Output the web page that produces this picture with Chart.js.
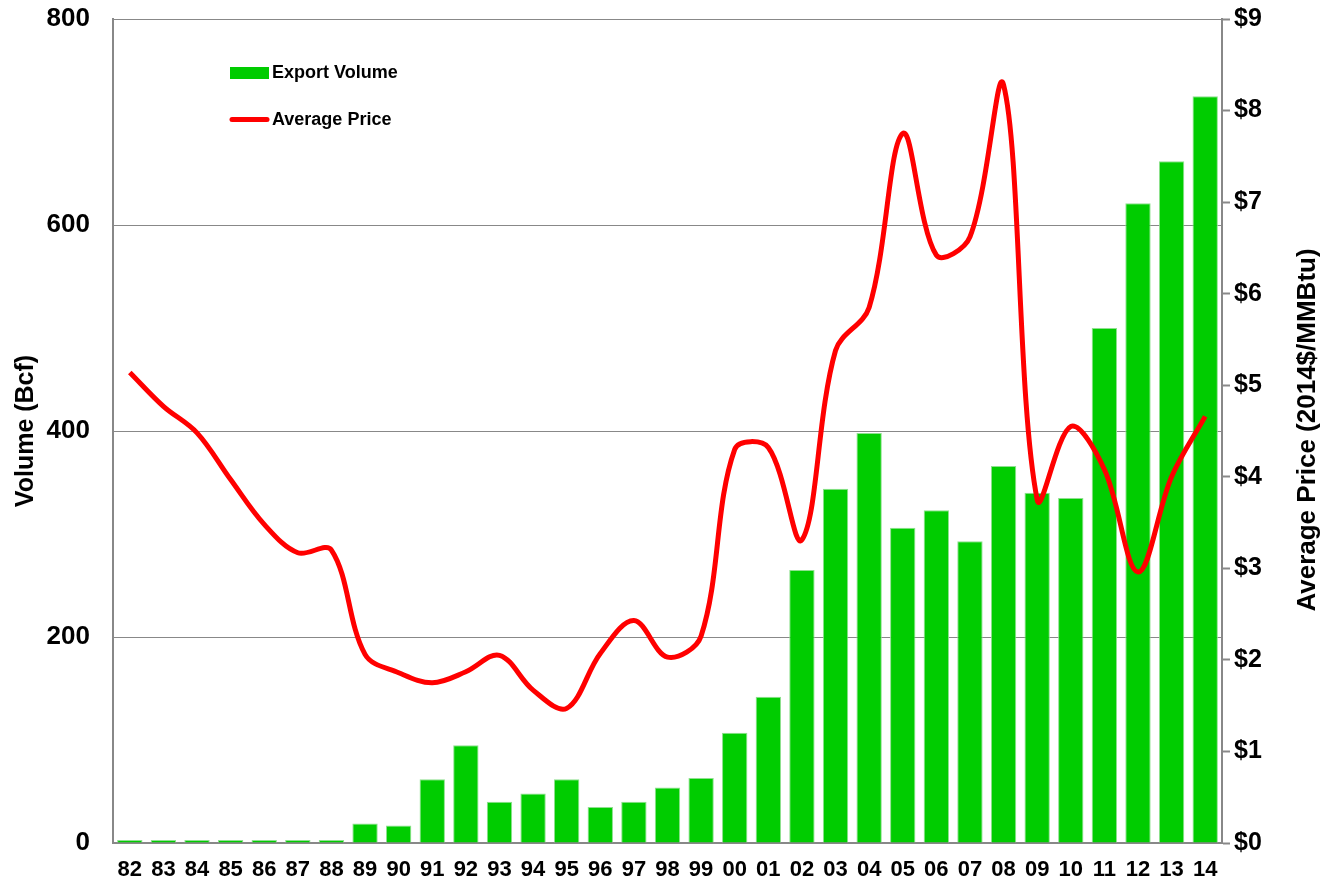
<!DOCTYPE html>
<html>
<head>
<meta charset="utf-8">
<title>Export Volume and Average Price</title>
<script src="https://cdn.jsdelivr.net/npm/chart.js@4/dist/chart.umd.min.js"></script>
<style>
  html, body { margin: 0; padding: 0; background: #fff; }
  #wrap { width: 1322px; height: 882px; }
</style>
</head>
<body>
<div id="wrap"><canvas id="volChart" width="1322" height="882"></canvas></div>
<script>
// Years (two-digit labels), export volume in Bcf, average price in 2014$/MMBtu
const years = ['82','83','84','85','86','87','88','89','90','91','92','93','94','95','96','97','98','99',
  '00','01','02','03','04','05','06','07','08','09','10','11','12','13','14'];
const volume = [3, 3, 3, 3, 3, 3, 3, 19, 17, 62, 95, 40, 48, 62, 35, 40, 54, 63,
  107, 142, 265, 344, 398, 306, 323, 293, 366, 340, 335, 500, 621, 662, 725];
const price = [5.14, 4.77, 4.48, 3.97, 3.48, 3.17, 3.2, 2.06, 1.86, 1.75, 1.87, 2.05, 1.67, 1.47, 2.07, 2.43, 2.03, 2.26,
  4.3, 4.32, 3.31, 5.38, 5.85, 7.75, 6.42, 6.62, 8.28, 3.75, 4.55, 4.08, 2.96, 4.0, 4.66];
const volumeTicks = [0, 200, 400, 600, 800];
const priceTicks = [0, 1, 2, 3, 4, 5, 6, 7, 8, 9];

const FONT = "'Liberation Sans', Arial, sans-serif";
const GREEN = '#00cc00';
const RED = '#ff0000';
const AXIS_GRAY = '#888888';

// legend inside the plot plus the right-hand title (reads bottom to top)
const overlay = {
  id: 'overlay',
  afterDraw(chart) {
    const ctx = chart.ctx;
    const items = chart.data.datasets;
    ctx.save();
    ctx.font = 'bold 18px ' + FONT;
    ctx.fillStyle = '#000';
    ctx.textBaseline = 'middle';
    ctx.textAlign = 'left';
    // bar swatch
    ctx.fillStyle = items[0].backgroundColor;
    ctx.fillRect(230, 67, 39, 12);
    ctx.fillStyle = '#000';
    ctx.fillText(items[0].label, 272, 73);
    // line swatch
    ctx.strokeStyle = items[1].borderColor;
    ctx.lineWidth = 5;
    ctx.lineCap = 'round';
    ctx.beginPath();
    ctx.moveTo(232, 119.5);
    ctx.lineTo(267, 119.5);
    ctx.stroke();
    ctx.fillText(items[1].label, 272, 120);

    ctx.translate(1308, 430);
    ctx.rotate(-Math.PI / 2);
    ctx.textAlign = 'center';
    ctx.font = 'bold 26px ' + FONT;
    ctx.fillText('Average Price (2014$/MMBtu)', 0, 0);
    ctx.restore();
  }
};

new Chart(document.getElementById('volChart'), {
  data: {
    labels: years,
    datasets: [
      {
        type: 'bar',
        label: 'Export Volume',
        data: volume,
        yAxisID: 'y',
        backgroundColor: GREEN,
        borderColor: '#8fe08f',
        borderWidth: 1,
        barPercentage: 0.755,
        categoryPercentage: 1,
        order: 2
      },
      {
        type: 'line',
        label: 'Average Price',
        data: price,
        yAxisID: 'y1',
        borderColor: RED,
        borderWidth: 5,
        pointRadius: 0,
        tension: 0.35,
        fill: false,
        order: 1
      }
    ]
  },
  options: {
    responsive: false,
    animation: false,
    devicePixelRatio: 1,
    layout: { padding: 0 },
    plugins: {
      legend: { display: false },
      tooltip: { enabled: false }
    },
    scales: {
      x: {
        grid: { display: false, drawTicks: false },
        border: { display: true, color: AXIS_GRAY, width: 2 },
        ticks: {
          color: '#000',
          font: { family: FONT, size: 22, weight: 'bold' },
          padding: 14,
          maxRotation: 0,
          autoSkip: false
        },
        afterFit(scale) { scale.height = 39; }
      },
      y: {
        position: 'left',
        min: volumeTicks[0],
        max: volumeTicks[volumeTicks.length - 1],
        afterBuildTicks(scale) { scale.ticks = volumeTicks.map(v => ({ value: v })); },
        // invisible tick marks keep the labels clear of the axis
        grid: { color: AXIS_GRAY, lineWidth: 1, drawTicks: true, tickLength: 23, tickColor: 'rgba(0,0,0,0)' },
        border: { display: true, color: AXIS_GRAY, width: 2 },
        ticks: {
          color: '#000',
          font: { family: FONT, size: 26, weight: 'bold' },
          padding: 0
        },
        title: {
          display: true,
          text: 'Volume (Bcf)',
          color: '#000',
          font: { family: FONT, size: 25, weight: 'bold' },
          padding: { top: 11, bottom: 0 }
        },
        afterFit(scale) { scale.width = 113; }
      },
      y1: {
        position: 'right',
        min: priceTicks[0],
        max: priceTicks[priceTicks.length - 1],
        afterBuildTicks(scale) { scale.ticks = priceTicks.map(v => ({ value: v })); },
        grid: { drawOnChartArea: false, drawTicks: true, tickLength: 8, tickColor: AXIS_GRAY, tickWidth: 2 },
        border: { display: true, color: AXIS_GRAY, width: 2 },
        ticks: {
          color: '#000',
          font: { family: FONT, size: 25, weight: 'bold' },
          padding: 4,
          callback: v => '$' + v
        },
        afterFit(scale) { scale.width = 100; }
      }
    }
  },
  plugins: [overlay]
});
</script>
</body>
</html>
